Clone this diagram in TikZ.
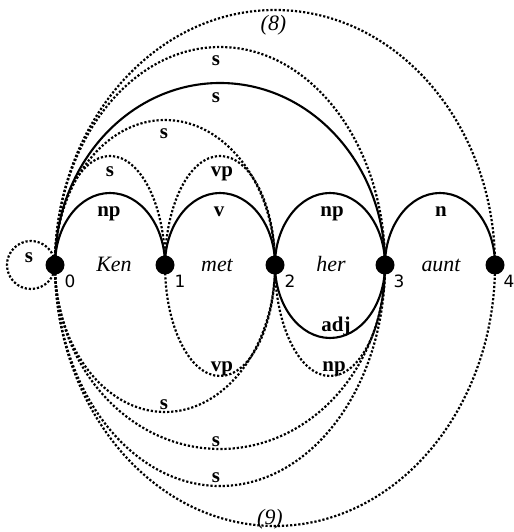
\documentclass[tikz,border=0pt]{standalone}
\usepackage{fontspec}
\setmainfont{Liberation Serif}
\newfontfamily\numfont{DejaVu Sans}
\usetikzlibrary{calc}
\tikzset{
  dot/.style={circle,fill=black,draw=none,inner sep=0pt,minimum size=19bp},
  solidarc/.style={line width=2.1bp},
  dotarc/.style={line width=2.2bp,dash pattern=on 2.2bp off 1.9bp},
  lab/.style={anchor=base,inner sep=0pt,font=\fontsize{21}{25}\selectfont\bfseries},
  word/.style={anchor=base,inner sep=0pt,font=\fontsize{22}{26}\selectfont\itshape},
  num/.style={anchor=base,inner sep=0pt,font=\fontsize{17}{20}\selectfont\numfont},
}
\newcommand{\harc}[5]{%
  \draw[#1] (#2.center) .. controls +(0,{0.5523*(#5)}) and +({-0.5523*(#4)},0) ..
    ($(#2.center)!0.5!(#3.center)+(0,#5)$) .. controls +({0.5523*(#4)},0) and +(0,{0.5523*(#5)}) .. (#3.center);}
\begin{document}
\begin{tikzpicture}[x=1bp,y=1bp]
\useasboundingbox (0,0) rectangle (514,532);
% node positions
\coordinate (n0) at (55,267);
\coordinate (n1) at (165,267);
\coordinate (n2) at (275,267);
\coordinate (n3) at (385,267);
\coordinate (n4) at (495,267);
% self loop
\draw[dotarc] (n0) arc[start angle=0,end angle=360,radius=24];
% upper arcs
\harc{solidarc}{n0}{n1}{55}{72}
\harc{solidarc}{n1}{n2}{55}{72}
\harc{solidarc}{n2}{n3}{55}{72}
\harc{solidarc}{n3}{n4}{55}{72}
\harc{dotarc}{n0}{n1}{55}{109}
\harc{dotarc}{n1}{n2}{55}{109}
\harc{dotarc}{n0}{n2}{110}{145}
\harc{solidarc}{n0}{n3}{165}{182}
\harc{dotarc}{n0}{n3}{165}{218}
\harc{dotarc}{n0}{n4}{220}{255}
% lower arcs
\harc{solidarc}{n2}{n3}{55}{-73}
\harc{dotarc}{n1}{n2}{55}{-111}
\harc{dotarc}{n2}{n3}{55}{-111}
\harc{dotarc}{n0}{n2}{110}{-147}
\harc{dotarc}{n0}{n3}{165}{-184}
\harc{dotarc}{n0}{n3}{165}{-221}
\harc{dotarc}{n0}{n4}{220}{-261}
% dots
\node[dot] (d0) at (n0) {};
\node[dot] (d1) at (n1) {};
\node[dot] (d2) at (n2) {};
\node[dot] (d3) at (n3) {};
\node[dot] (d4) at (n4) {};
% numbers
\node[num] (k0) at (70,244) {0};
\node[num] (k1) at (180,244) {1};
\node[num] (k2) at (290,244) {2};
\node[num] (k3) at (399,244) {3};
\node[num] (k4) at (509,244) {4};
% words
\node[word] (w0) at (114,260) {Ken};
\node[word] (w1) at (217,260) {met};
\node[word] (w2) at (331,260) {her};
\node[word] (w3) at (441,260) {aunt};
% upper labels
\node[lab] (l1) at (109,315) {np};
\node[lab] (l2) at (219,315) {v};
\node[lab] (l3) at (332,315) {np};
\node[lab] (l4) at (441,315) {n};
\node[lab] (l5) at (110,355) {s};
\node[lab] (l6) at (222,355) {vp};
\node[lab] (l7) at (164,393) {s};
\node[lab] (l8) at (216,429) {s};
\node[lab] (l9) at (216,466) {s};
\node[word] (l10) at (273.5,501) {(8)};
\node[lab] (l0) at (29,269) {s};
% lower labels
\node[lab] (m1) at (336,200) {adj};
\node[lab] (m2) at (222,160) {vp};
\node[lab] (m3) at (334,160) {np};
\node[lab] (m4) at (164,122) {s};
\node[lab] (m5) at (216,85) {s};
\node[lab] (m6) at (216,49) {s};
\node[word] (m7) at (270,7) {(9)};
\end{tikzpicture}
\end{document}
